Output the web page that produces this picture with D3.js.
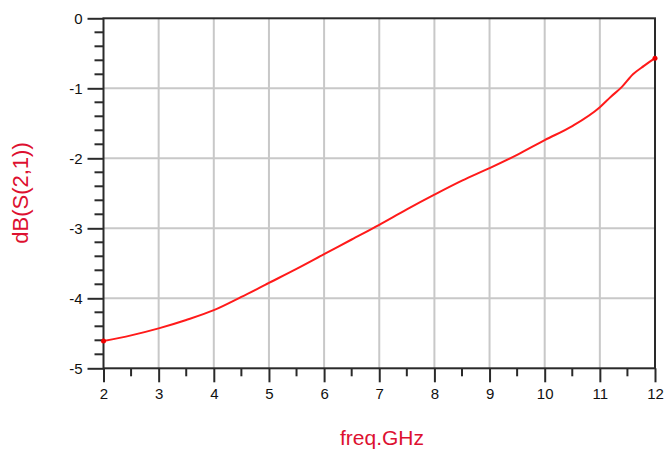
<!DOCTYPE html>
<html>
<head>
<meta charset="utf-8">
<script src="https://cdn.jsdelivr.net/npm/d3@7"></script>
<style>
  body { margin: 0; background: #fff; }
  svg { display: block; }
</style>
</head>
<body>
<svg id="chart" width="664" height="450"></svg>
<script>
const freq = [2, 2.5, 3, 3.5, 4, 4.5, 5, 5.5, 6, 6.5, 7, 7.5, 8, 8.5, 9, 9.5, 10, 10.5, 11, 11.2, 11.4, 11.6, 11.8, 12];
const s21 = [-4.61, -4.53, -4.43, -4.31, -4.17, -3.98, -3.78, -3.58, -3.37, -3.16, -2.95, -2.73, -2.52, -2.32, -2.14, -1.95, -1.74, -1.54, -1.27, -1.12, -0.98, -0.80, -0.68, -0.57];
const xTicks = [2, 3, 4, 5, 6, 7, 8, 9, 10, 11, 12];
const yTicks = [0, -1, -2, -3, -4, -5];
const xLabel = "freq.GHz";
const yLabel = "dB(S(2,1))";

const svg = d3.select("#chart");
const L = 103.5, R = 655, T = 18.3, B = 368.3;
const x = d3.scaleLinear().domain([2, 12]).range([L, R]);
const y = d3.scaleLinear().domain([-5, 0]).range([B, T]);

// grid
const grid = svg.append("g");
grid.selectAll("line.vx").data(xTicks.slice(1, -1)).join("line")
  .attr("x1", d => x(d)).attr("x2", d => x(d)).attr("y1", T).attr("y2", B)
  .attr("stroke", "#c8c8c8").attr("stroke-width", 2);
grid.selectAll("line.hy").data(yTicks.slice(1, -1)).join("line")
  .attr("y1", d => y(d)).attr("y2", d => y(d)).attr("x1", L).attr("x2", R)
  .attr("stroke", "#c8c8c8").attr("stroke-width", 2);

// minor ticks
const yMinor = d3.range(-5, 0.001, 0.2).filter(v => Math.abs(v - Math.round(v)) > 0.01);
const xMinor = d3.range(2.5, 12, 1);

const yAxis = d3.axisLeft(y).tickValues(yTicks).tickSize(16).tickPadding(5).tickFormat(d3.format("d"));
const xAxis = d3.axisBottom(x).tickValues(xTicks).tickSize(14).tickPadding(6).tickFormat(d3.format("d"));

const gy = svg.append("g").attr("transform", `translate(${L},0)`).call(yAxis);
const gx = svg.append("g").attr("transform", `translate(0,${B})`).call(xAxis);
[gy, gx].forEach(g => {
  g.select(".domain").remove();
  g.selectAll(".tick line").attr("stroke", "#2a2a2a").attr("stroke-width", 2);
  g.selectAll(".tick text").attr("fill", "#111").style("font-family", "Liberation Sans, Arial, sans-serif").style("font-size", "15px");
});
gy.selectAll(".tick text").text(d => d === 0 ? "0" : "-" + Math.abs(d));

svg.append("g").selectAll("line").data(yMinor).join("line")
  .attr("x1", L - 9).attr("x2", L).attr("y1", d => y(d)).attr("y2", d => y(d))
  .attr("stroke", "#2a2a2a").attr("stroke-width", 2);
svg.append("g").selectAll("line").data(xMinor).join("line")
  .attr("y1", B).attr("y2", B + 8).attr("x1", d => x(d)).attr("x2", d => x(d))
  .attr("stroke", "#2a2a2a").attr("stroke-width", 2);

// frame
svg.append("rect").attr("x", L).attr("y", T).attr("width", R - L).attr("height", B - T)
  .attr("fill", "none").attr("stroke", "#2a2a2a").attr("stroke-width", 2);

// curve
const data = freq.map((f, i) => ({ f, v: s21[i] }));
svg.append("path").datum(data)
  .attr("fill", "none").attr("stroke", "#ff1a1a").attr("stroke-width", 2)
  .attr("d", d3.line().x(d => x(d.f)).y(d => y(d.v)).curve(d3.curveMonotoneX));
svg.append("g").selectAll("circle").data([data[0], data[data.length - 1]]).join("circle")
  .attr("cx", d => x(d.f)).attr("cy", d => y(d.v)).attr("r", 2.5).attr("fill", "#ee0000");

// labels
svg.append("text").attr("x", 382).attr("y", 445).attr("text-anchor", "middle")
  .attr("fill", "#dd1030").style("font-family", "Liberation Sans, Arial, sans-serif").style("font-size", "21px")
  .text(xLabel);
svg.append("text").attr("transform", "translate(28,193) rotate(-90)").attr("text-anchor", "middle")
  .attr("fill", "#dd1030").style("font-family", "Liberation Sans, Arial, sans-serif").style("font-size", "22px")
  .text(yLabel);
</script>
</body>
</html>
